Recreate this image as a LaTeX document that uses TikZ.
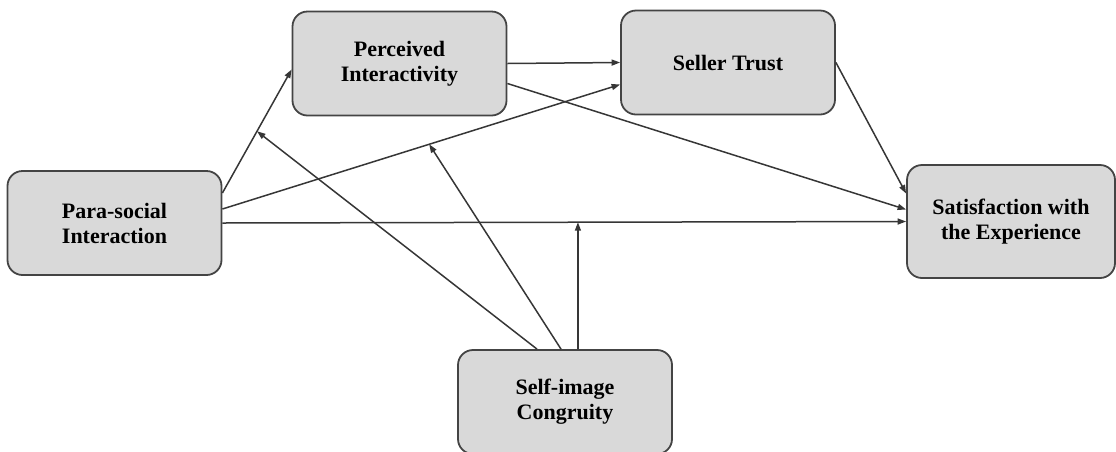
\documentclass[tikz,border=0pt]{standalone}
\usepackage{fontspec}
\setmainfont{Liberation Serif}
\usetikzlibrary{arrows.meta}

\definecolor{boxfill}{HTML}{D9D9D9}
\definecolor{boxline}{HTML}{444444}
\definecolor{linkcol}{HTML}{363636}

\tikzset{
	box/.style={draw=boxline, fill=boxfill, line width=1.8pt, rounded corners=15pt,
		minimum width=214pt, minimum height=104pt, align=center, inner sep=0pt,
		font=\fontsize{22}{25}\selectfont\bfseries},
	link/.style={draw=linkcol, line width=1.5pt, -{Triangle[length=8.5pt,width=6pt]}}
}

\begin{document}
\begin{tikzpicture}[x=1pt, y=-1pt]
		\useasboundingbox (0,0) rectangle (1116,451);
		\node[box] (psi) at (114.5,223) {Para-social\\Interaction};
		\node[box] (pi) at (399.5,63.5) {Perceived\\Interactivity};
		\node[box] (st) at (728,62.5) {Seller Trust};
		\node[box, minimum width=208pt, minimum height=113pt] (sat) at (1011,221.5) {Satisfaction with\\the Experience};
		\node[box] (sic) at (565,402) {Self-image\\Congruity};
		\draw[link] ([yshift=30pt]psi.east) -- ([yshift=-6pt]pi.west) coordinate[pos=.5] (m1);
		\draw[link] ([yshift=14pt]psi.east) -- ([yshift=-22pt]st.west) coordinate[pos=.52] (m2);
		\draw[link] (psi.east) -- (sat.west) coordinate[pos=.52] (m3);
		\draw[link] (pi.east) -- (st.west);
		\draw[link] ([yshift=-20pt]pi.east) -- ([yshift=12pt]sat.west);
		\draw[link] (st.east) -- ([yshift=28pt]sat.west);
		\draw[link] ([xshift=-28pt]sic.north) -- (m1);
		\draw[link] ([xshift=-4pt]sic.north) -- (m2);
		\draw[link] (sic.north -| m3) -- (m3);
	\end{tikzpicture}
\end{document}
